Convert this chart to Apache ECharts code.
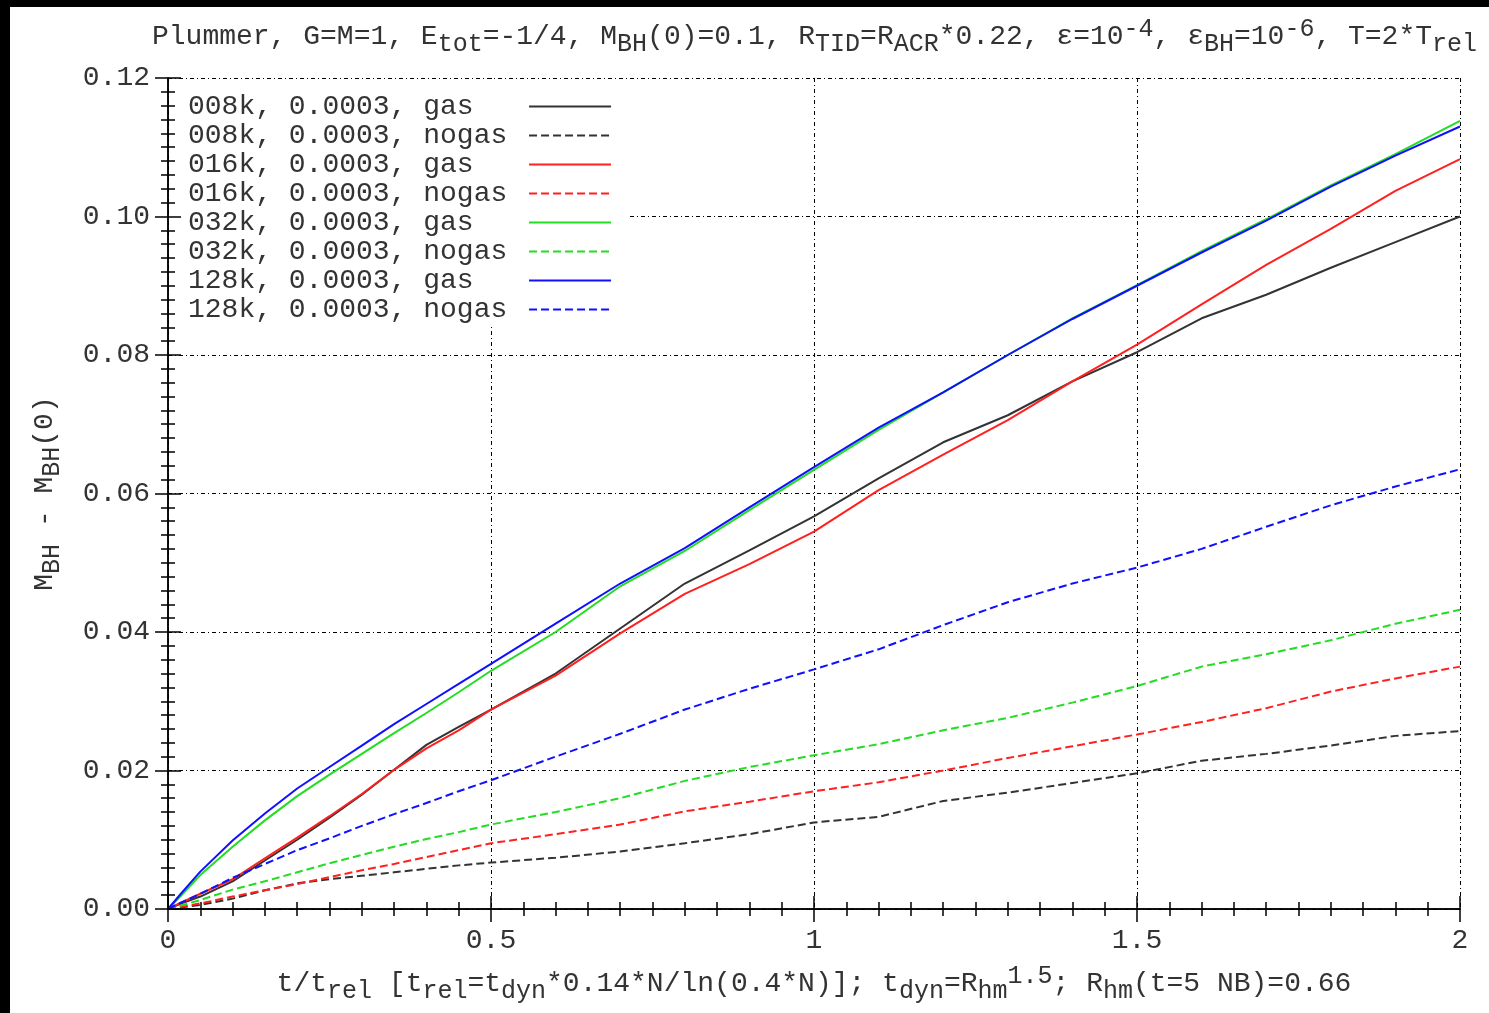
<!DOCTYPE html>
<html>
<head>
<meta charset="utf-8">
<script src="https://cdn.jsdelivr.net/npm/echarts@6/dist/echarts.min.js"></script>
<style>
  html, body { margin: 0; padding: 0; background: #fff; }
  #chart { position: absolute; left: 0; top: 0; width: 1489px; height: 1013px; background: #fff; }
  .edge { position: absolute; background: #000; }
</style>
</head>
<body>
<div id="chart"></div>
<div class="edge" style="left:0;top:0;width:1489px;height:7px;"></div>
<div class="edge" style="left:0;top:0;width:10px;height:1013px;"></div>
<script>
// time grid (t / t_rel)
const T = [0, 0.02, 0.05, 0.1, 0.15, 0.2, 0.25, 0.3, 0.35, 0.4, 0.45, 0.5, 0.6, 0.7, 0.8, 0.9, 1.0, 1.1, 1.2, 1.3, 1.4, 1.5, 1.6, 1.7, 1.8, 1.9, 2.0];

// M_BH - M_BH(0)
const gas008   = [0, 0.0008, 0.0018, 0.0040, 0.0070, 0.0100, 0.0132, 0.0165, 0.0201, 0.0237, 0.0263, 0.0288, 0.0340, 0.0405, 0.0470, 0.0518, 0.0567, 0.0622, 0.0674, 0.0713, 0.0762, 0.0804, 0.0853, 0.0887, 0.0926, 0.0963, 0.1000];
const nogas008 = [0, 0.0002, 0.0006, 0.0015, 0.0027, 0.0037, 0.0043, 0.0048, 0.0053, 0.0058, 0.0063, 0.0067, 0.0074, 0.0083, 0.0095, 0.0108, 0.0125, 0.0133, 0.0156, 0.0168, 0.0182, 0.0196, 0.0214, 0.0224, 0.0236, 0.0250, 0.0257];
const gas016   = [0, 0.0009, 0.0022, 0.0043, 0.0073, 0.0103, 0.0134, 0.0166, 0.0201, 0.0232, 0.0258, 0.0288, 0.0337, 0.0398, 0.0455, 0.0498, 0.0545, 0.0605, 0.0656, 0.0706, 0.0762, 0.0815, 0.0873, 0.0930, 0.0982, 0.1037, 0.1083];
const nogas016 = [0, 0.0003, 0.0008, 0.0018, 0.0027, 0.0036, 0.0046, 0.0056, 0.0065, 0.0075, 0.0085, 0.0095, 0.0108, 0.0122, 0.0141, 0.0155, 0.0170, 0.0183, 0.0200, 0.0218, 0.0235, 0.0252, 0.0270, 0.0290, 0.0314, 0.0333, 0.0350];
const gas032   = [0, 0.0019, 0.0049, 0.0090, 0.0128, 0.0163, 0.0194, 0.0224, 0.0254, 0.0283, 0.0313, 0.0344, 0.0400, 0.0466, 0.0517, 0.0576, 0.0634, 0.0692, 0.0746, 0.0800, 0.0853, 0.0901, 0.0950, 0.0996, 0.1045, 0.1090, 0.1138];
const nogas032 = [0, 0.0005, 0.0013, 0.0028, 0.0040, 0.0053, 0.0066, 0.0078, 0.0090, 0.0101, 0.0111, 0.0122, 0.0140, 0.0160, 0.0185, 0.0205, 0.0222, 0.0238, 0.0258, 0.0276, 0.0298, 0.0322, 0.0350, 0.0368, 0.0388, 0.0412, 0.0432];
const gas128   = [0, 0.0022, 0.0054, 0.0099, 0.0138, 0.0174, 0.0205, 0.0236, 0.0267, 0.0296, 0.0325, 0.0354, 0.0412, 0.0470, 0.0521, 0.0580, 0.0638, 0.0695, 0.0746, 0.0800, 0.0852, 0.0900, 0.0948, 0.0994, 0.1043, 0.1088, 0.1130];
const nogas128 = [0, 0.0009, 0.0022, 0.0045, 0.0065, 0.0085, 0.0102, 0.0120, 0.0137, 0.0153, 0.0170, 0.0186, 0.0220, 0.0253, 0.0288, 0.0318, 0.0346, 0.0375, 0.0410, 0.0443, 0.0470, 0.0493, 0.0520, 0.0552, 0.0583, 0.0610, 0.0635];

const seriesNames = ['008k, 0.0003, gas', '008k, 0.0003, nogas', '016k, 0.0003, gas', '016k, 0.0003, nogas',
                     '032k, 0.0003, gas', '032k, 0.0003, nogas', '128k, 0.0003, gas', '128k, 0.0003, nogas'];
const seriesValues = [gas008, nogas008, gas016, nogas016, gas032, nogas032, gas128, nogas128];
const seriesColors = ['#333333', '#333333', '#ff2020', '#ff2020', '#22dd22', '#22dd22', '#1010ff', '#1010ff'];

const xTickLabels = {0: '0', 0.5: '0.5', 1: '1', 1.5: '1.5', 2: '2'};

const FONT = "'Liberation Mono', 'DejaVu Sans Mono', monospace";
const TXT = '#333';
const rich = {
  n:   { fontFamily: FONT, fontSize: 28, fontWeight: 'normal', color: TXT, lineHeight: 40, verticalAlign: 'middle' },
  sub: { fontFamily: FONT, fontSize: 25, fontWeight: 'normal', color: TXT, lineHeight: 21, verticalAlign: 'bottom' },
  sup: { fontFamily: FONT, fontSize: 25, fontWeight: 'normal', color: TXT, lineHeight: 14, verticalAlign: 'top' }
};

const chart = echarts.init(document.getElementById('chart'), null, { renderer: 'canvas' });

const tickCommon = {
  axisLine: { show: true, lineStyle: { color: '#000', width: 1.5 } },
  axisTick: { show: true, inside: true, length: 13, lineStyle: { color: '#000', width: 1.5 } },
  minorTick: { show: true, splitNumber: 10, length: 7, lineStyle: { color: '#000', width: 1.5 } },
  minorSplitLine: { show: false }
};
const gridLine = { show: true, lineStyle: { color: '#000', width: 1, type: [4, 3, 1, 3] } };

const option = {
  animation: false,
  backgroundColor: '#fff',
  title: {
    text: '{n|Plummer, G=M=1, E}{sub|tot}{n|=-1/4, M}{sub|BH}{n|(0)=0.1, R}{sub|TID}{n|=R}{sub|ACR}{n|*0.22, ε=10}{sup|-4}{n|, ε}{sub|BH}{n|=10}{sup|-6}{n|, T=2*T}{sub|rel}',
    left: 152, top: 17, padding: 0,
    textStyle: { fontWeight: 'normal', rich: rich }
  },
  grid: { left: 168, right: 29, top: 78, bottom: 104 },
  legend: {
    orient: 'vertical',
    left: 169, top: 79,
    padding: [13, 17, 0, 19],
    backgroundColor: '#fff',
    align: 'right',
    itemWidth: 82, itemHeight: 14, itemGap: 0,
    itemStyle: { opacity: 0 },
    formatter: function (name) { return name.padEnd(20, ' '); },
    textStyle: { fontFamily: FONT, fontSize: 28, lineHeight: 29, color: TXT },
    data: seriesNames
  },
  xAxis: [
    Object.assign({
      type: 'value', min: 0, max: 2, interval: 0.5, position: 'bottom', z: 0,
      axisLabel: { show: true, margin: 18, fontFamily: FONT, fontSize: 28, color: TXT,
                   formatter: function (v) { return xTickLabels[v] !== undefined ? xTickLabels[v] : String(v); } },
      splitLine: gridLine,
      name: '{n|t/t}{sub|rel}{n| [t}{sub|rel}{n|=t}{sub|dyn}{n|*0.14*N/ln(0.4*N)]; t}{sub|dyn}{n|=R}{sub|hm}{sup|1.5}{n|; R}{sub|hm}{n|(t=5 NB)=0.66}',
      nameLocation: 'middle', nameGap: 55,
      nameTextStyle: { rich: rich }
    }, tickCommon),
    Object.assign({
      type: 'value', min: 0, max: 2, interval: 0.5, position: 'top', z: 5,
      axisLabel: { show: false }, splitLine: { show: false }
    }, tickCommon)
  ],
  yAxis: [
    Object.assign({
      type: 'value', min: 0, max: 0.12, interval: 0.02, position: 'left', z: 5,
      axisLabel: { show: true, margin: 18, fontFamily: FONT, fontSize: 28, color: TXT,
                   formatter: function (v) { return v.toFixed(2); } },
      splitLine: { show: false },
      name: '{n|M}{sub|BH}{n| - M}{sub|BH}{n|(0)}',
      nameLocation: 'middle', nameGap: 103,
      nameTextStyle: { rich: rich }
    }, tickCommon),
    Object.assign({
      type: 'value', min: 0, max: 0.12, interval: 0.02, position: 'right', z: 0,
      axisLabel: { show: false }, splitLine: gridLine
    }, tickCommon)
  ],
  series: seriesNames.map(function (name, i) {
    return {
      name: name,
      type: 'line',
      xAxisIndex: 0, yAxisIndex: 0,
      showSymbol: false, symbol: 'none',
      smooth: false,
      z: 2 + i * 0.01,
      lineStyle: { color: seriesColors[i], width: 2, type: (i % 2 === 1) ? [8, 4] : 'solid' },
      itemStyle: { color: seriesColors[i] },
      data: T.map(function (t, k) { return [t, seriesValues[i][k]]; })
    };
  })
};
chart.setOption(option);
</script>
</body>
</html>
